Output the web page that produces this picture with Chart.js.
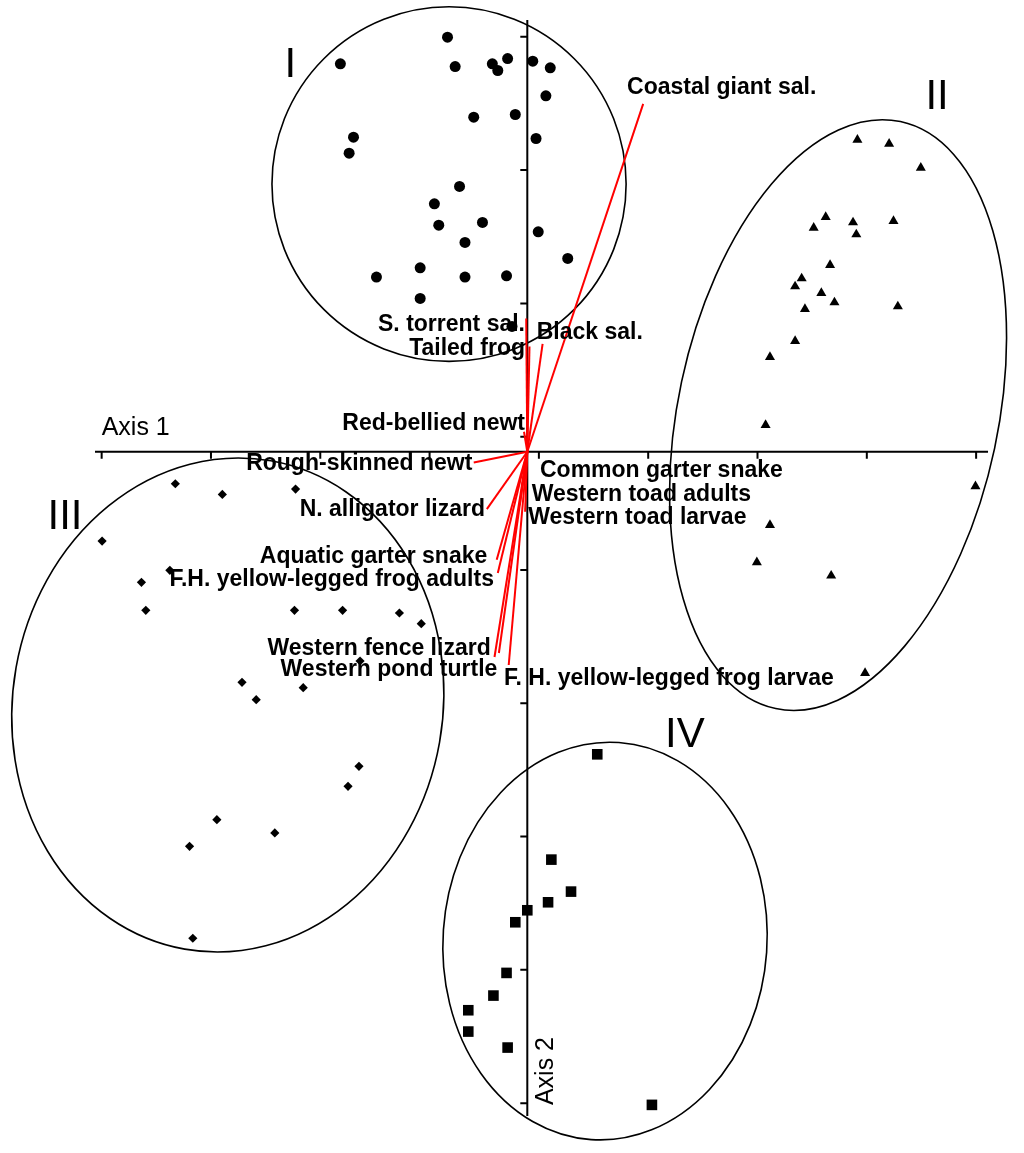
<!DOCTYPE html>
<html>
<head>
<meta charset="utf-8">
<script src="https://cdn.jsdelivr.net/npm/chart.js@4.4.1/dist/chart.umd.min.js"></script>
<style>
  html, body { margin: 0; padding: 0; background: #fff; }
  #wrap { width: 1024px; height: 1153px; position: relative; }
</style>
</head>
<body>
<div id="wrap"><canvas id="chart"></canvas></div>
<script>
// Sample unit scores on Axis 1 / Axis 2, one pair of arrays per group
const groupIx = [-0.73, -1.71, -0.66, -0.32, -0.27, -0.18, 0.05, 0.21, 0.17, -0.11, -0.49, 0.08, -1.59, -1.63,
                 -0.62, -0.85, -0.41, -0.81, 0.10, -0.57, 0.37, -0.98, -1.38, -0.57, -0.19, -0.98, -0.14];
const groupIy = [3.11, 2.91, 2.89, 2.91, 2.86, 2.95, 2.93, 2.88, 2.67, 2.53, 2.51, 2.35, 2.36, 2.24,
                 1.99, 1.86, 1.72, 1.70, 1.65, 1.57, 1.45, 1.38, 1.31, 1.31, 1.32, 1.15, 0.94];

const groupIIx = [3.02, 3.31, 3.60, 2.73, 2.62, 2.98, 3.01, 3.35, 2.77, 2.51, 2.45, 2.69, 2.81, 2.54, 3.39,
                  2.45, 2.22, 2.18, 4.10, 2.22, 2.10, 2.78, 3.09];
const groupIIy = [2.34, 2.31, 2.13, 1.76, 1.68, 1.72, 1.63, 1.73, 1.40, 1.30, 1.24, 1.19, 1.12, 1.07, 1.09,
                  0.83, 0.71, 0.20, -0.26, -0.55, -0.83, -0.93, -1.66];

const groupIIIx = [-3.22, -2.79, -2.12, -3.89, -3.27, -3.53, -3.49, -2.13, -1.69, -1.17, -0.97, -1.53, -2.61,
                   -2.05, -2.48, -1.54, -1.64, -2.84, -2.31, -3.09, -3.06];
const groupIIIy = [-0.24, -0.32, -0.28, -0.67, -0.89, -0.98, -1.19, -1.19, -1.19, -1.21, -1.29, -1.57, -1.73,
                   -1.77, -1.86, -2.36, -2.51, -2.76, -2.86, -2.96, -3.65];

const groupIVx = [0.64, 0.22, 0.40, 0.19, 0.00, -0.11, -0.19, -0.31, -0.54, -0.54, -0.18, 1.14];
const groupIVy = [-2.27, -3.06, -3.30, -3.38, -3.44, -3.53, -3.91, -4.08, -4.19, -4.35, -4.47, -4.90];

// Species vectors (joint plot)
const vectorNames = ['Coastal giant sal.', 'Black sal.', 'S. torrent sal.', 'Tailed frog', 'Red-bellied newt',
  'Rough-skinned newt', 'N. alligator lizard', 'Common garter snake', 'Western toad adults', 'Western toad larvae',
  'Aquatic garter snake', 'F.H. yellow-legged frog adults', 'Western fence lizard', 'Western pond turtle',
  'F. H. yellow-legged frog larvae'];
const vectorX = [1.06, 0.14, -0.01, 0.02, -0.03, -0.49, -0.37, -0.05, -0.07, -0.02, -0.28, -0.27, -0.30, -0.26, -0.17];
const vectorY = [2.61, 0.81, 1.00, 0.79, 0.15, -0.08, -0.43, -0.27, -0.40, -0.45, -0.81, -0.91, -1.54, -1.51, -1.60];

// Axis tick positions and axis extents
const xTicks = [-3.894, -2.894, -1.894, -0.894, 0.106, 1.106, 2.106, 3.106, 4.106];
const yTicks = [3.113, 2.113, 1.113, 0.113, -0.887, -1.887, -2.887, -3.887, -4.887];
const axisXRange = [-3.955, 4.215];
const axisYRange = [3.239, -4.983];

const clusterNames = ['I', 'II', 'III', 'IV'];

// layout of the annotations (data units)
const hulls = [
  { cx: -0.716, cy: 2.008, rx: 1.62, ry: 1.33, rot: 0 },
  { cx: 2.843, cy: 0.275, rx: 1.464, ry: 2.251, rot: 12 },
  { cx: -2.74, cy: -1.90, rx: 1.967, ry: 1.86, rot: 10 },
  { cx: 0.711, cy: -3.671, rx: 1.482, ry: 1.493, rot: 4 }
];
const clusterPos = [[-2.169, 2.90], [3.749, 2.66], [-4.229, -0.494], [1.442, -2.126]];
const labelPos = {
  'Coastal giant sal.': [0.913, 2.728, 'left'],
  'Black sal.': [0.086, 0.896, 'left'],
  'S. torrent sal.': [-0.021, 0.951, 'right'],
  'Tailed frog': [-0.021, 0.776, 'right'],
  'Red-bellied newt': [-0.021, 0.213, 'right'],
  'Rough-skinned newt': [-0.503, -0.087, 'right'],
  'N. alligator lizard': [-0.387, -0.432, 'right'],
  'Common garter snake': [0.116, -0.143, 'left'],
  'Western toad adults': [0.040, -0.320, 'left'],
  'Western toad larvae': [0.009, -0.495, 'left'],
  'Aquatic garter snake': [-0.366, -0.788, 'right'],
  'F.H. yellow-legged frog adults': [-0.305, -0.962, 'right'],
  'Western fence lizard': [-0.335, -1.480, 'right'],
  'Western pond turtle': [-0.274, -1.638, 'right'],
  'F. H. yellow-legged frog larvae': [-0.213, -1.700, 'left']
};

const FONT = "'Liberation Sans', Arial, sans-serif";

const toPoints = (xs, ys) => xs.map((v, i) => ({ x: v, y: ys[i] }));

const vectorSets = vectorNames.map((name, i) => ({
  label: name,
  data: [{ x: 0, y: 0 }, { x: vectorX[i], y: vectorY[i] }],
  showLine: true,
  borderColor: '#ff0000',
  borderWidth: 2,
  pointRadius: 0,
  clip: false
}));

const groupStyle = (label, xs, ys, style, r) => ({
  label: label,
  data: toPoints(xs, ys),
  pointStyle: style,
  pointRadius: r,
  backgroundColor: '#000',
  borderColor: '#000',
  borderWidth: 0,
  clip: false
});

const decor = {
  id: 'decor',
  beforeDatasetsDraw(chart) {
    const { ctx, scales: { x, y } } = chart;
    const ox = x.getPixelForValue(0);
    const oy = y.getPixelForValue(0);
    ctx.save();
    ctx.strokeStyle = '#000';
    ctx.lineWidth = 2;
    ctx.beginPath();
    ctx.moveTo(x.getPixelForValue(axisXRange[0]), oy);
    ctx.lineTo(x.getPixelForValue(axisXRange[1]), oy);
    ctx.moveTo(ox, y.getPixelForValue(axisYRange[0]));
    ctx.lineTo(ox, y.getPixelForValue(axisYRange[1]));
    xTicks.forEach(v => {
      const p = x.getPixelForValue(v);
      ctx.moveTo(p, oy);
      ctx.lineTo(p, oy + 7);
    });
    yTicks.forEach(v => {
      const p = y.getPixelForValue(v);
      ctx.moveTo(ox, p);
      ctx.lineTo(ox - 7, p);
    });
    ctx.stroke();

    // cluster outlines
    ctx.lineWidth = 1.6;
    hulls.forEach(h => {
      const cx = x.getPixelForValue(h.cx);
      const cy = y.getPixelForValue(h.cy);
      const rx = Math.abs(x.getPixelForValue(h.cx + h.rx) - cx);
      const ry = Math.abs(y.getPixelForValue(h.cy + h.ry) - cy);
      ctx.beginPath();
      ctx.ellipse(cx, cy, rx, ry, h.rot * Math.PI / 180, 0, Math.PI * 2);
      ctx.stroke();
    });
    ctx.restore();
  },
  afterDatasetsDraw(chart) {
    const { ctx, scales: { x, y } } = chart;
    ctx.save();
    ctx.fillStyle = '#000';
    ctx.textBaseline = 'middle';

    ctx.font = 'bold 23px ' + FONT;
    vectorNames.forEach(name => {
      const p = labelPos[name];
      ctx.textAlign = p[2];
      ctx.fillText(name, x.getPixelForValue(p[0]), y.getPixelForValue(p[1]));
    });

    ctx.font = '42px ' + FONT;
    ctx.textAlign = 'center';
    clusterNames.forEach((n, i) => {
      ctx.fillText(n, x.getPixelForValue(clusterPos[i][0]), y.getPixelForValue(clusterPos[i][1]));
    });

    // axis titles
    ctx.font = '25px ' + FONT;
    ctx.textAlign = 'left';
    ctx.fillText('Axis 1', x.getPixelForValue(-3.894), y.getPixelForValue(0.178));
    ctx.translate(x.getPixelForValue(0.171), y.getPixelForValue(-4.646));
    ctx.rotate(-Math.PI / 2);
    ctx.textAlign = 'center';
    ctx.fillText('Axis 2', 0, 0);
    ctx.restore();
  }
};

new Chart(document.getElementById('chart'), {
  type: 'scatter',
  data: {
    datasets: [
      ...vectorSets,
      groupStyle('I', groupIx, groupIy, 'circle', 5.5),
      groupStyle('II', groupIIx, groupIIy, 'triangle', 5.8),
      groupStyle('III', groupIIIx, groupIIIy, 'rectRot', 4.6),
      groupStyle('IV', groupIVx, groupIVy, 'rect', 7.5)
    ]
  },
  options: {
    responsive: true,
    maintainAspectRatio: false,
    animation: false,
    layout: { padding: 0, autoPadding: false },
    plugins: {
      legend: { display: false },
      tooltip: { enabled: false }
    },
    scales: {
      x: { type: 'linear', min: -4.824, max: 4.544, display: false },
      y: { type: 'linear', min: -5.261, max: 3.389, display: false }
    }
  },
  plugins: [decor]
});
</script>
</body>
</html>
